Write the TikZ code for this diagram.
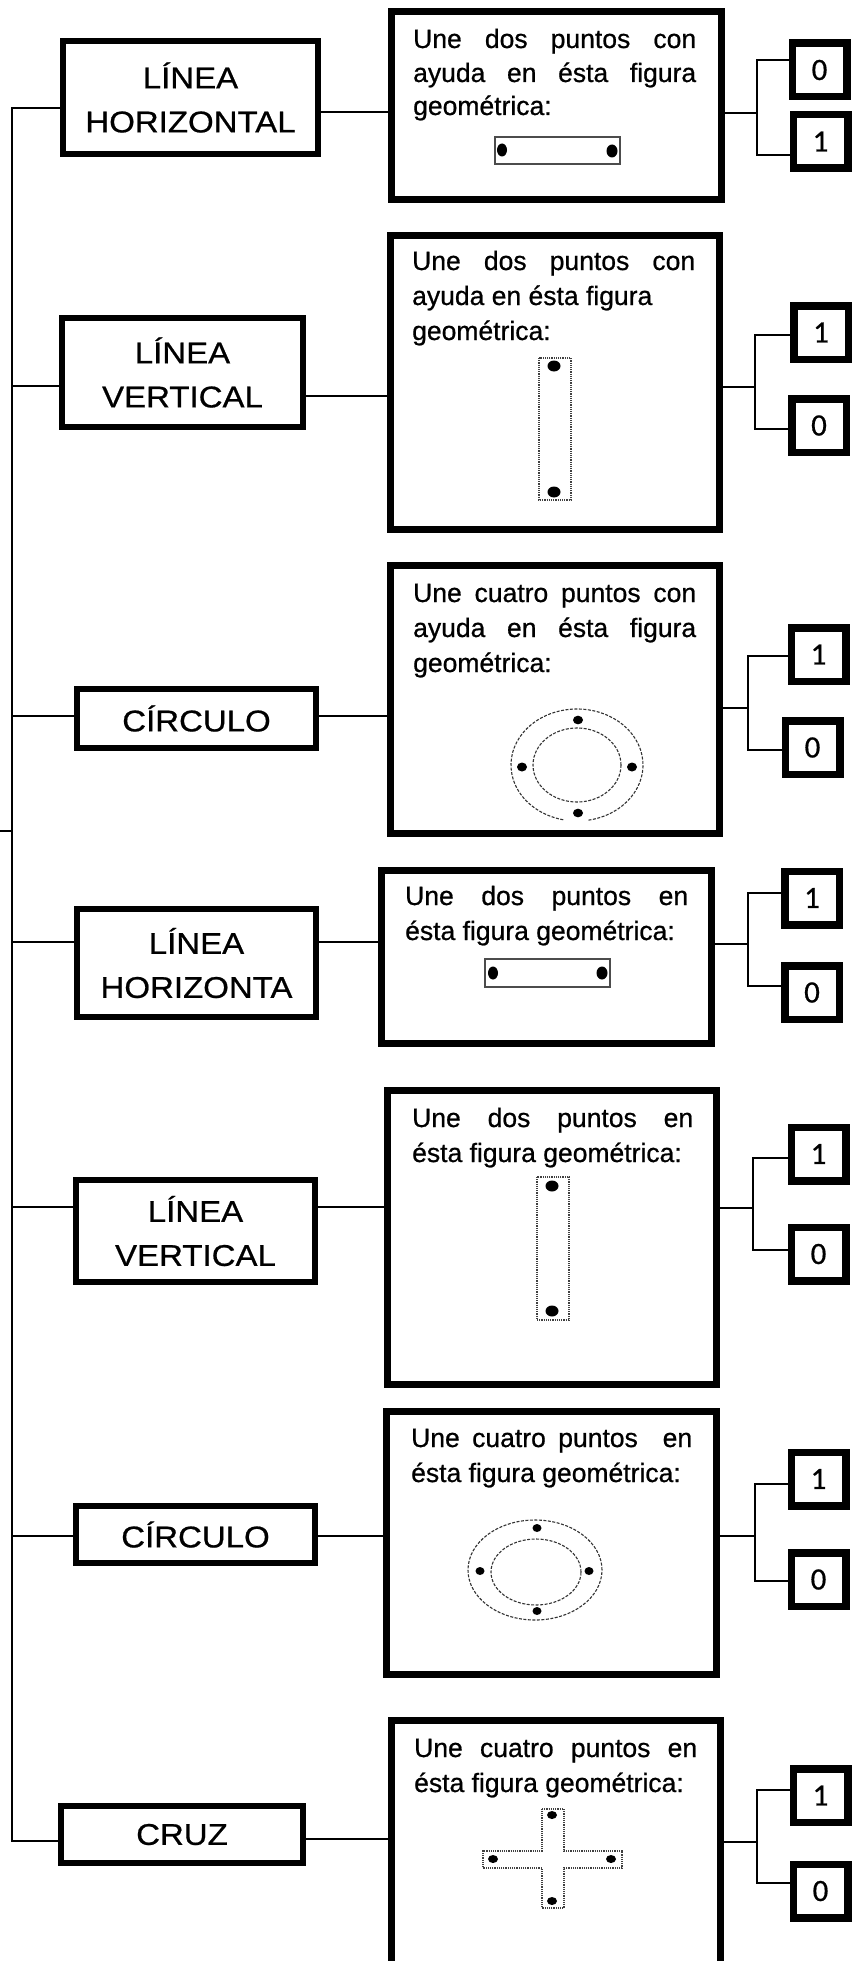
\documentclass[tikz,border=0pt]{standalone}
\usepackage{fontspec}
\setmainfont[FakeBold=0.7]{Liberation Sans}
\newfontfamily\digfont[FakeBold=0.6]{Carlito}
\newfontfamily\lbfont[FakeStretch=1.1,FakeBold=0.7]{Liberation Sans}
\begin{document}
\begin{tikzpicture}[x=1pt,y=-1pt,
  lbox/.style={draw, line width=6pt, inner sep=0pt, align=center, font=\lbfont\fontsize{30}{44}\selectfont},
  qbox/.style={draw, line width=7pt, inner sep=0pt, minimum width=329pt},
  sbox/.style={draw, line width=7.5pt, inner sep=0pt, minimum width=54.5pt, minimum height=53.5pt, font=\digfont\fontsize{31}{31}\selectfont},
  conn/.style={line width=2.2pt},
  qtxt/.style={anchor=base west, inner sep=0pt, font=\fontsize{26.5}{35}\selectfont},
  figsolid/.style={line width=1.1pt, black!70},
  figdot/.style={densely dotted, line width=1.2pt, black!75},
  figdash/.style={dash pattern=on 3pt off 1.5pt, line width=1.1pt, black!80},
  bigdot/.style={fill=black},
]
\clip (0,0) rectangle (859,1961);
\fill[white] (0,0) rectangle (859,1961);

% ---------------- left boxes ----------------
\node[lbox, minimum width=255pt, minimum height=113pt] (l1) at (190.5,97.5) {LÍNEA\\HORIZONTAL};
\node[lbox, minimum width=241pt, minimum height=109pt] (l2) at (182.5,372.5) {LÍNEA\\VERTICAL};
\node[lbox, minimum width=239pt, minimum height=59pt] (l3) at (196.5,718.5) {CÍRCULO};
\node[lbox, minimum width=239pt, minimum height=108pt] (l4) at (196.5,963) {LÍNEA\\HORIZONTA};
\node[lbox, minimum width=239pt, minimum height=102pt] (l5) at (195.5,1231) {LÍNEA\\VERTICAL};
\node[lbox, minimum width=239pt, minimum height=57pt] (l6) at (195.5,1534.5) {CÍRCULO};
\node[lbox, minimum width=242pt, minimum height=57pt] (l7) at (182,1834.5) {CRUZ};

% ---------------- big boxes ----------------
\node[qbox, minimum width=330pt, minimum height=188pt] (q1) at (556.5,105.5) {};
\node[qbox, minimum height=294pt] (q2) at (555,382.5) {};
\node[qbox, minimum height=268pt] (q3) at (555,699.5) {};
\node[qbox, minimum width=330pt, minimum height=173pt] (q4) at (546.5,957) {};
\node[qbox, minimum height=294pt] (q5) at (552,1237.5) {};
\node[qbox, minimum width=330pt, minimum height=263pt] (q6) at (551.5,1543) {};
\node[qbox, minimum height=326pt] (q7) at (556,1883.5) {};

% ---------------- small boxes ----------------
\node[sbox] (s1a) at (819.5,70) {0};
\node[sbox] (s1b) at (820.5,141.5) {1};
\node[sbox] (s2a) at (821,332.5) {1};
\node[sbox] (s2b) at (819,425.5) {0};
\node[sbox] (s3a) at (818.5,654.5) {1};
\node[sbox] (s3b) at (812.5,747.5) {0};
\node[sbox] (s4a) at (812,898) {1};
\node[sbox] (s4b) at (812,992.5) {0};
\node[sbox] (s5a) at (818.5,1154) {1};
\node[sbox] (s5b) at (818.5,1254) {0};
\node[sbox] (s6a) at (818.5,1479) {1};
\node[sbox] (s6b) at (818.5,1579.5) {0};
\node[sbox] (s7a) at (820.5,1795.5) {1};
\node[sbox] (s7b) at (820.5,1891) {0};

% ---------------- texts in big boxes ----------------
\node[qtxt] (t1a) at (413,48) {\makebox[283pt][s]{Une dos puntos con}};
\node[qtxt] (t1b) at (413,82) {\makebox[283pt][s]{ayuda en ésta figura}};
\node[qtxt] (t1c) at (413,115) {geométrica:};

\node[qtxt] (t2a) at (412,270) {\makebox[283pt][s]{Une dos puntos con}};
\node[qtxt] (t2b) at (412,305) {ayuda en ésta figura};
\node[qtxt] (t2c) at (412,340) {geométrica:};

\node[qtxt] (t3a) at (413,602) {\makebox[283pt][s]{Une cuatro puntos con}};
\node[qtxt] (t3b) at (413,637) {\makebox[283pt][s]{ayuda en ésta figura}};
\node[qtxt] (t3c) at (413,672) {geométrica:};

\node[qtxt] (t4a) at (405,905) {\makebox[283pt][s]{Une dos puntos en}};
\node[qtxt] (t4b) at (405,940) {ésta figura geométrica:};

\node[qtxt] (t5a) at (412,1127) {\makebox[281pt][s]{Une dos puntos en}};
\node[qtxt] (t5b) at (412,1162) {ésta figura geométrica:};

\node[qtxt] (t6a) at (411,1447) {\makebox[281pt][s]{Une cuatro puntos\ \ en}};
\node[qtxt] (t6b) at (411,1482) {ésta figura geométrica:};

\node[qtxt] (t7a) at (414,1757) {\makebox[283pt][s]{Une cuatro puntos en}};
\node[qtxt] (t7b) at (414,1792) {ésta figura geométrica:};

% ---------------- figures ----------------
% row 1
\draw[figsolid] (495,137) rectangle (620,164);
\fill[bigdot] (502,150) ellipse [x radius=5pt, y radius=6.5pt];
\fill[bigdot] (612,151) ellipse [x radius=5.5pt, y radius=6.5pt];
% row 2
\draw[figdot] (539,358) rectangle (571,500);
\fill[bigdot] (554,366) ellipse [x radius=6.5pt, y radius=5.5pt];
\fill[bigdot] (554,492) ellipse [x radius=6.5pt, y radius=5.5pt];
% row 3
\draw[figdash] (577,765) ++(-80:66pt and 56pt) arc [start angle=-80, end angle=258, x radius=66pt, y radius=56pt];
\draw[figdash] (577,765) ellipse [x radius=44pt, y radius=37pt];
\fill[bigdot] (578,720) ellipse [x radius=5pt, y radius=4.3pt];
\fill[bigdot] (522,767) ellipse [x radius=5pt, y radius=4.5pt];
\fill[bigdot] (632,767) ellipse [x radius=5pt, y radius=4.5pt];
\fill[bigdot] (578,813) ellipse [x radius=5pt, y radius=4.3pt];
% row 4
\draw[figsolid] (485,959) rectangle (610,987);
\fill[bigdot] (493,973) ellipse [x radius=5pt, y radius=6.5pt];
\fill[bigdot] (602,973) ellipse [x radius=5.5pt, y radius=6.5pt];
% row 5
\draw[figdot] (537,1177) rectangle (569,1320);
\fill[bigdot] (552,1186) ellipse [x radius=6.5pt, y radius=5.5pt];
\fill[bigdot] (552,1311) ellipse [x radius=6.5pt, y radius=5.5pt];
% row 6
\draw[figdash] (535,1570) ellipse [x radius=67pt, y radius=50pt];
\draw[figdash] (536,1572) ellipse [x radius=45pt, y radius=33pt];
\fill[bigdot] (537,1528) ellipse [x radius=4.5pt, y radius=4pt];
\fill[bigdot] (480,1571) ellipse [x radius=4.5pt, y radius=4pt];
\fill[bigdot] (589,1571) ellipse [x radius=4.5pt, y radius=4pt];
\fill[bigdot] (537,1611) ellipse [x radius=4.5pt, y radius=4pt];
% row 7 (cross)
\draw[figdot] (542,1809) -- (564,1809) -- (564,1851) -- (622,1851) -- (622,1868) -- (564,1868)
  -- (564,1908) -- (542,1908) -- (542,1868) -- (483,1868) -- (483,1851) -- (542,1851) -- cycle;
\fill[bigdot] (552,1815) ellipse [x radius=5pt, y radius=4pt];
\fill[bigdot] (493,1859) ellipse [x radius=5pt, y radius=4pt];
\fill[bigdot] (611,1859) ellipse [x radius=5pt, y radius=4pt];
\fill[bigdot] (552,1901) ellipse [x radius=5pt, y radius=4pt];

% ---------------- left trunk ----------------
\coordinate (tt) at (12,108);
\coordinate (tb) at (12,1841);
\coordinate (a2) at (12,386);
\coordinate (a3) at (12,716);
\coordinate (a4) at (12,942);
\coordinate (a5) at (12,1207);
\coordinate (a6) at (12,1536);
\coordinate (tk) at (0,831);
\draw[conn] (tt -| l1.west) -- (tt) -- (tb) -- (tb -| l7.west);
\draw[conn] (a2) -- (a2 -| l2.west);
\draw[conn] (a3) -- (a3 -| l3.west);
\draw[conn] (a4) -- (a4 -| l4.west);
\draw[conn] (a5) -- (a5 -| l5.west);
\draw[conn] (a6) -- (a6 -| l6.west);
\draw[conn] (tk) -- (tk -| tt);

% ---------------- middle connectors ----------------
\coordinate (m1) at (0,112);
\coordinate (m2) at (0,396);
\coordinate (m3) at (0,716);
\coordinate (m4) at (0,942);
\coordinate (m5) at (0,1207);
\coordinate (m6) at (0,1536);
\coordinate (m7) at (0,1839);
\draw[conn] (l1.east |- m1) -- (q1.west |- m1);
\draw[conn] (l2.east |- m2) -- (q2.west |- m2);
\draw[conn] (l3.east |- m3) -- (q3.west |- m3);
\draw[conn] (l4.east |- m4) -- (q4.west |- m4);
\draw[conn] (l5.east |- m5) -- (q5.west |- m5);
\draw[conn] (l6.east |- m6) -- (q6.west |- m6);
\draw[conn] (l7.east |- m7) -- (q7.west |- m7);

% ---------------- right connectors ----------------
\coordinate (j1) at (757,113);  \coordinate (j1a) at (757,60);   \coordinate (j1b) at (757,155);
\coordinate (j2) at (755,387);  \coordinate (j2a) at (755,335);  \coordinate (j2b) at (755,429);
\coordinate (j3) at (748,708);  \coordinate (j3a) at (748,656);  \coordinate (j3b) at (748,750);
\coordinate (j4) at (748,944);  \coordinate (j4a) at (748,893);  \coordinate (j4b) at (748,986);
\coordinate (j5) at (753,1208); \coordinate (j5a) at (753,1158); \coordinate (j5b) at (753,1250);
\coordinate (j6) at (755,1536); \coordinate (j6a) at (755,1484); \coordinate (j6b) at (755,1581);
\coordinate (j7) at (757,1842); \coordinate (j7a) at (757,1790); \coordinate (j7b) at (757,1883);

\draw[conn] (q1.east |- j1) -- (j1);
\draw[conn] (j1a -| s1a.west) -- (j1a) -- (j1b) -- (j1b -| s1b.west);
\draw[conn] (q2.east |- j2) -- (j2);
\draw[conn] (j2a -| s2a.west) -- (j2a) -- (j2b) -- (j2b -| s2b.west);
\draw[conn] (q3.east |- j3) -- (j3);
\draw[conn] (j3a -| s3a.west) -- (j3a) -- (j3b) -- (j3b -| s3b.west);
\draw[conn] (q4.east |- j4) -- (j4);
\draw[conn] (j4a -| s4a.west) -- (j4a) -- (j4b) -- (j4b -| s4b.west);
\draw[conn] (q5.east |- j5) -- (j5);
\draw[conn] (j5a -| s5a.west) -- (j5a) -- (j5b) -- (j5b -| s5b.west);
\draw[conn] (q6.east |- j6) -- (j6);
\draw[conn] (j6a -| s6a.west) -- (j6a) -- (j6b) -- (j6b -| s6b.west);
\draw[conn] (q7.east |- j7) -- (j7);
\draw[conn] (j7a -| s7a.west) -- (j7a) -- (j7b) -- (j7b -| s7b.west);
\end{tikzpicture}
\end{document}
